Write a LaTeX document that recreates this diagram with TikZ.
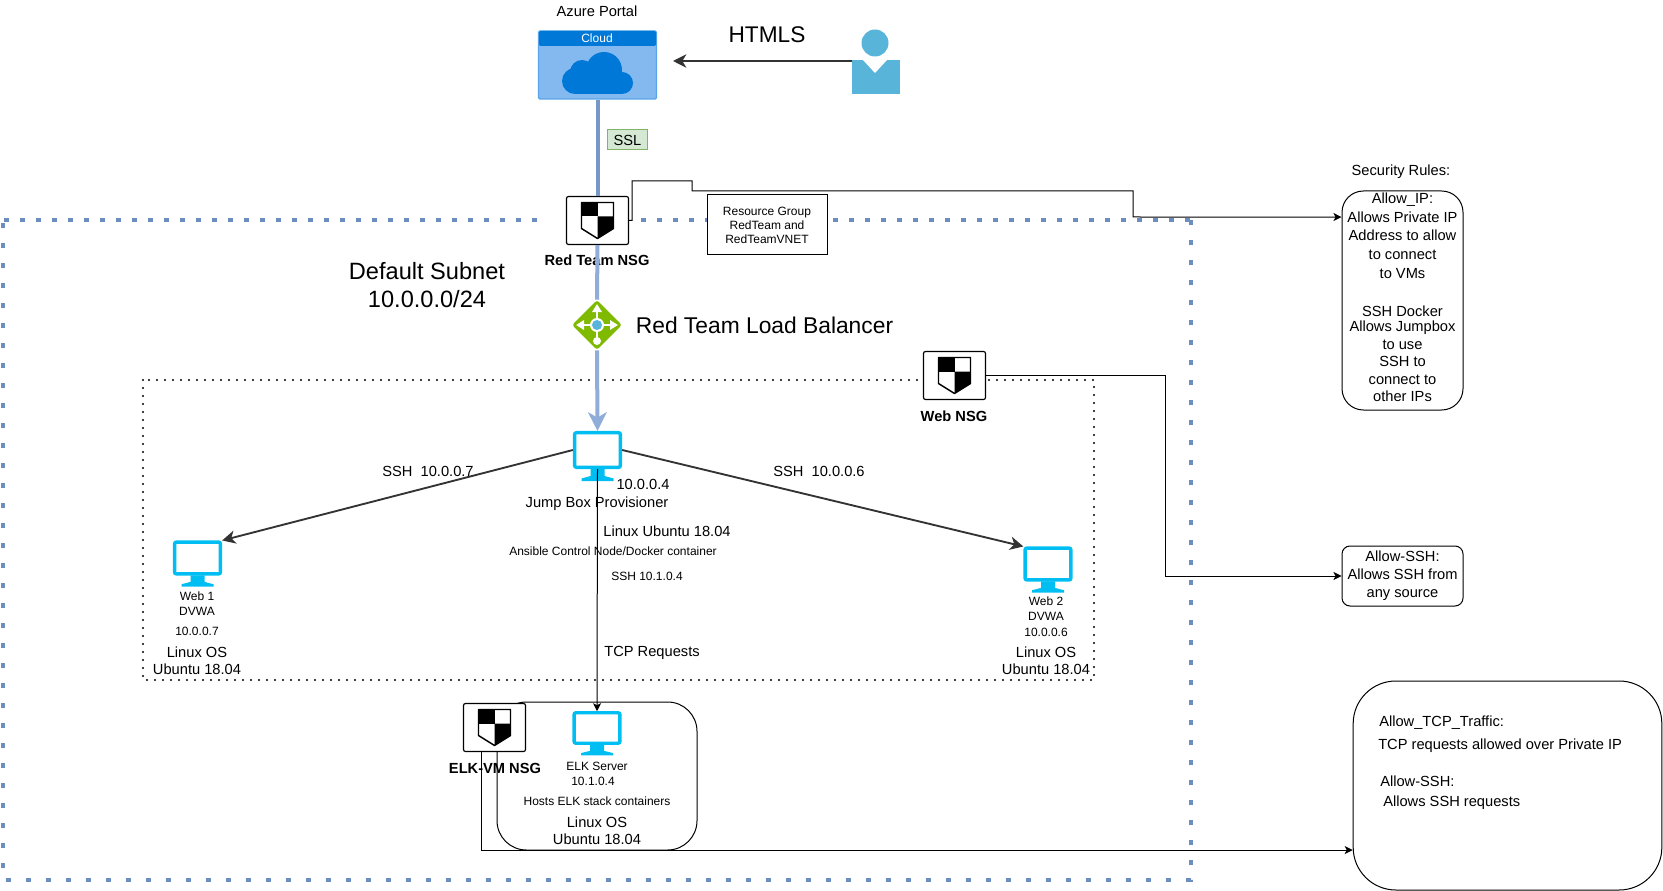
\documentclass[tikz,border=0pt]{standalone}
\usepackage{fontspec}
\setmainfont{Liberation Sans}
\usetikzlibrary{arrows.meta, shapes.geometric}

\definecolor{subnetblue}{HTML}{6C8EBF}
\definecolor{trunkblue}{HTML}{7797C9}
\definecolor{trunklight}{HTML}{90ADDA}
\definecolor{screencyan}{HTML}{00BEF2}
\definecolor{azuredark}{HTML}{0078D7}
\definecolor{azurelight}{HTML}{83B9EE}
\definecolor{azureedge}{HTML}{59A5E8}
\definecolor{personblue}{HTML}{59B4D9}
\definecolor{lbgreen}{HTML}{7FBA00}
\definecolor{sslgreen}{HTML}{82B366}
\definecolor{sslfill}{HTML}{D5E8D4}

\tikzset{
    txt/.style={font=\fontsize{11}{13}\selectfont, inner sep=0pt, align=center},
    tiny/.style={font=\fontsize{9}{10.5}\selectfont, inner sep=0pt, align=center},
    big/.style={font=\fontsize{17}{21}\selectfont, inner sep=0pt, align=center},
    nsglabel/.style={font=\fontsize{11}{13}\selectfont\bfseries, inner sep=0pt},
    nsgbox/.style={draw=black, fill=white, line width=0.9pt, rounded corners=1.5pt,
        minimum width=46.5pt, minimum height=36pt, inner sep=0pt},
    rulebox/.style={draw=black, fill=white, line width=0.75pt, inner sep=0pt},
    link/.style={draw=black, line width=0.75pt, -{Stealth[length=6pt, width=6pt, inset=1.5pt]}},
    sshlink/.style={draw=black!80, line width=1.4pt, -{Stealth[length=10pt, width=10pt, inset=3pt]}},
    trunk/.style={line width=3pt},
    subnet/.style={draw=subnetblue, line width=3.6pt},
    pics/monitor/.style={code={
        \node[transform shape, draw=screencyan, fill=white, line width=2.6pt, rounded corners=1.5pt,
            minimum width=34.4pt, minimum height=26pt, inner sep=0pt] (-s) at (0,0) {};
        \fill[screencyan] (-7,19) -- (7,19) -- (7,26) -- (16,28.5) -- (16,31)
            -- (-16,31) -- (-16,28.5) -- (-7,26) -- cycle;
    }},
    pics/shield/.style={code={
        \fill[black] (-16,-18) rectangle (0,-4);
        \fill[black] (0,-4) -- (16,-4) -- (16,8) -- (0,18) -- cycle;
        \draw[black, line width=1.1pt, line join=round]
            (-16,-18) -- (16,-18) -- (16,8) -- (0,18) -- (-16,8) -- cycle;
    }},
}

\begin{document}
\begin{tikzpicture}[x=0.75pt, y=-0.75pt]
    \useasboundingbox (0,0) rectangle (1663,891);

    % subnet frame
    \coordinate (subTL) at (3,220);
    \coordinate (subTR) at (1191,220);
    \coordinate (subBR) at (1191,880);
    \coordinate (subBL) at (3,880);
    \coordinate (subGapL) at (537,220);
    \coordinate (subGapR) at (641,220);
    \draw[subnet, dash pattern=on 3.6pt off 11.4pt] (subTR) -- (subBR) -- (subBL) -- (subTL);
    \draw[subnet, dash pattern=on 3.6pt off 8.4pt] (subGapL) -- (subTL);
    \draw[subnet, dash pattern=on 3.6pt off 8.4pt] (subGapR) -- (subTR);

    % web subnet frame
    \draw[black, line width=1.7pt, line cap=round, dash pattern=on 0pt off 6pt]
        (143,380) rectangle (1094,680);

    % portal and user
    \node[txt] (portal) at (597,11) {Azure Portal};
    \node[draw=azureedge, fill=azurelight, line width=1pt, rounded corners=1pt,
        minimum width=88.5pt, minimum height=51pt, inner sep=0pt] (cloud) at (597.5,65) {};
    \fill[azuredark, rounded corners=1pt] (539,31) rectangle (656,46);
    \node[tiny, text=white] (cloudhead) at (597,38) {Cloud};
    \fill[azuredark] (604,70) circle (18);
    \fill[azuredark] (582,72) circle (12);
    \fill[azuredark] (575,81) circle (13);
    \fill[azuredark] (622,83) circle (11);
    \fill[azuredark] (575,72) rectangle (622,94);

    \fill[personblue] (875,43) circle (13.5);
    \node[fill=personblue, minimum width=36pt, minimum height=25.5pt, inner sep=0pt] (user) at (876,77) {};
    \fill[white] (863,60) -- (875,73) -- (887,60) -- cycle;
    \coordinate (userport) at (852,61);
    \coordinate (cloudport) at (673,61);
    \draw[sshlink] (userport) -- (cloudport);
    \node[big] (htmls) at (767,35) {HTMLS};

    % NSGs and their labels
    \node[nsglabel] (rednsglabel) at (597,260) {Red Team NSG};
    \node[nsgbox] (rednsg) at (597.5,220.5) {};
    \pic at (rednsg.center) {shield};
    \node[rulebox, tiny, minimum width=90pt, minimum height=45pt] (resgroup) at (767,225)
        {Resource Group\\RedTeam and\\RedTeamVNET};

    % jump box and balancer
    \pic (jump) at (597.5,450) {monitor};
    \node[diamond, aspect=1, fill=lbgreen, rounded corners=2pt, minimum width=37.5pt,
        minimum height=37.5pt, inner sep=0pt] (lb) at (597,325) {};
    \draw[white, line width=1.9pt, -{Triangle[length=6pt, width=7pt]}] (lb.center) -- (597,304);
    \draw[white, line width=1.9pt, -{Triangle[length=6pt, width=7pt]}] (lb.center) -- (576,325);
    \draw[white, line width=1.9pt, -{Triangle[length=6pt, width=7pt]}] (lb.center) -- (618,325);
    \draw[white, line width=1.9pt] (lb.center) -- (597,341);
    \fill[white] (597,341) circle (4);
    \fill[white] (lb.center) circle (7);
    \fill[personblue] (lb.center) circle (5);

    \draw[trunk, draw=trunkblue] (cloud.south) -- (rednsg.north);
    \draw[trunk, draw=trunklight] (rednsg.south) -- (lb.north);
    \draw[trunk, draw=trunklight, -{Stealth[length=14pt, width=14pt, inset=4pt]}] (lb.south) -- (jump-s.north);
    \node[draw=sslgreen, fill=sslfill, line width=0.75pt, minimum width=30.5pt, minimum height=15pt,
        inner sep=0pt, font=\fontsize{11}{13}\selectfont] (ssl) at (627.5,140) {SSL};
    \node[big, font=\fontsize{17.1}{21}\selectfont] (lbtext) at (764.5,325) {Red Team Load Balancer};
    \node[big, font=\fontsize{17.7}{21}\selectfont] (subnettext) at (427,285) {Default Subnet\\10.0.0.0/24};

    % web NSG
    \node[nsgbox] (webnsg) at (954.5,375.5) {};
    \pic at (webnsg.center) {shield};
    \node[nsglabel] (webnsglabel) at (954,416) {Web NSG};

    % web servers
    \pic[yscale=0.92] (webone) at (197.5,558) {monitor};
    \pic[yscale=0.92] (webtwo) at (1048,564) {monitor};
    \draw[sshlink] (jump-s.west) -- (webone-s.north east);
    \draw[sshlink] (jump-s.east) -- (webtwo-s.north west);
    \node[txt] (sshone) at (428,471) {SSH~~10.0.0.7};
    \node[txt] (sshtwo) at (819,471) {SSH~~10.0.0.6};

    \node[tiny, font=\fontsize{9}{11.2}\selectfont] (webonename) at (197,603.5) {Web 1\\DVWA};
    \node[tiny] (webonetip) at (197,631) {10.0.0.7};
    \node[txt] (webonesys) at (197,660.5) {Linux OS\\Ubuntu 18.04};
    \node[tiny, font=\fontsize{9}{11.2}\selectfont] (webtwoname) at (1046,608.5) {Web 2\\DVWA};
    \node[tiny] (webtwotip) at (1046,632) {10.0.0.6};
    \node[txt] (webtwosys) at (1046,661) {Linux OS\\Ubuntu 18.04};

    % elk group
    \draw[black, line width=0.75pt, rounded corners=22pt] (497,702) rectangle (697,850);
    \pic[yscale=0.88] (elk) at (597,728) {monitor};
    \node[nsgbox] (elknsg) at (494.5,727.5) {};
    \pic at (elknsg.center) {shield};
    \node[nsglabel] (elknsglabel) at (495,768) {ELK-VM NSG};
    \node[tiny] (elkname) at (597,766) {ELK Server};
    \node[tiny] (elkip) at (593,781) {10.1.0.4};
    \node[tiny] (elkhost) at (597,801) {Hosts ELK stack containers};
    \node[txt] (elksys) at (597,830.5) {Linux OS\\Ubuntu 18.04};

    % jump box texts
    \draw[link] (jump-s.south) -- (elk-s.north);
    \node[txt] (jumpip) at (643,484) {10.0.0.4};
    \node[txt] (jumpname) at (597,504) {Jump Box Provisioner};
    \node[txt] (jumpos) at (667,531) {Linux Ubuntu 18.04};
    \node[tiny] (jumpansible) at (613,551) {Ansible Control Node/Docker container};
    \node[tiny] (jumpssh) at (647,576) {SSH 10.1.0.4};
    \node[txt] (tcpreq) at (652,652.5) {TCP Requests};

    % rule boxes
    \node[txt] (rulestitle) at (1401,172) {Security Rules:};
    \node[rulebox, rounded corners=16pt, minimum width=90.75pt, minimum height=164.25pt] (iprules) at (1402.5,300.5) {};
    \node[txt, font=\fontsize{11}{14}\selectfont] (iptext) at (1402.5,235.5) {Allow\_IP:\\Allows Private IP\\Address to allow\\to connect\\to VMs};
    \node[txt, font=\fontsize{11}{13.2}\selectfont] (dockertext) at (1402.5,354) {SSH Docker\\[-2pt]Allows Jumpbox\\to use\\SSH to\\connect to\\other IPs};
    \node[rulebox, txt, rounded corners=6pt, minimum width=90.75pt, minimum height=45pt,
        font=\fontsize{11}{13.5}\selectfont] (sshrules) at (1402.5,576) {Allow-SSH:\\Allows SSH from\\any source};
    \node[rulebox, rounded corners=32pt, minimum width=231.5pt, minimum height=156.75pt] (tcprules) at (1507.5,785.5) {};
    \node[txt, anchor=west] (tcptitle) at (1379,723) {Allow\_TCP\_Traffic:};
    \node[txt, anchor=west] (tcptext) at (1378,746) {TCP requests allowed over Private IP};
    \node[txt, anchor=west] (tcpssh) at (1380,781) {Allow-SSH:};
    \node[txt, anchor=west] (tcpsshtext) at (1383,803) {Allows SSH requests};

    % rule connectors
    \draw[link] (rednsg.east) -- (632,220.5) -- (632,181) -- (692,181) -- (692,191)
        -- (1133,191) -- (1133,217) -- ([yshift=62.6pt]iprules.west);
    \draw[link] (webnsg.east) -| (1165,576) -- (sshrules.west);
    \draw[link] ([xshift=-9.4pt]elknsg.south) |- ([yshift=-48.4pt]tcprules.west);
\end{tikzpicture}
\end{document}
